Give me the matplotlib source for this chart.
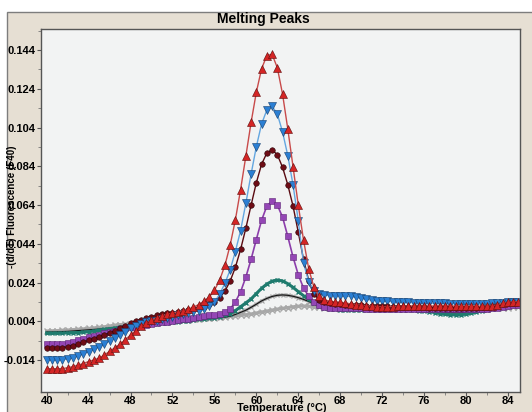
import matplotlib.pyplot as plt
from matplotlib.patches import Rectangle

# temperature grid (deg C) the curves were read at
temp = [40.0, 40.5, 41.0, 41.5, 42.0, 42.5, 43.0, 43.5, 44.0, 44.5,
        45.0, 45.5, 46.0, 46.5, 47.0, 47.5, 48.0, 48.5, 49.0, 49.5,
        50.0, 50.5, 51.0, 51.5, 52.0, 52.5, 53.0, 53.5, 54.0, 54.5,
        55.0, 55.5, 56.0, 56.5, 57.0, 57.5, 58.0, 58.5, 59.0, 59.5,
        60.0, 60.5, 61.0, 61.5, 62.0, 62.5, 63.0, 63.5, 64.0, 64.5,
        65.0, 65.5, 66.0, 66.5, 67.0, 67.5, 68.0, 68.5, 69.0, 69.5,
        70.0, 70.5, 71.0, 71.5, 72.0, 72.5, 73.0, 73.5, 74.0, 74.5,
        75.0, 75.5, 76.0, 76.5, 77.0, 77.5, 78.0, 78.5, 79.0, 79.5,
        80.0, 80.5, 81.0, 81.5, 82.0, 82.5, 83.0, 83.5, 84.0, 84.5,
        85.0]

red = [-0.0205, -0.0205, -0.0205, -0.0204, -0.0200, -0.0194, -0.0187, -0.0178, -0.0168, -0.0160,
       -0.0150, -0.0135, -0.0115, -0.0097, -0.0078, -0.0055, -0.0031, -0.0008, 0.0014, 0.0030,
       0.0045, 0.0058, 0.0068, 0.0076, 0.0082, 0.0088, 0.0095, 0.0102, 0.0113, 0.0126,
       0.0144, 0.0165, 0.0199, 0.0252, 0.0328, 0.0432, 0.0563, 0.0720, 0.0892, 0.1066,
       0.1222, 0.1343, 0.1411, 0.1418, 0.1349, 0.1213, 0.1033, 0.0838, 0.0640, 0.0460,
       0.0310, 0.0215, 0.0168, 0.0150, 0.0143, 0.0140, 0.0137, 0.0134, 0.0130, 0.0126,
       0.0123, 0.0120, 0.0118, 0.0116, 0.0115, 0.0115, 0.0116, 0.0117, 0.0118, 0.0119,
       0.0119, 0.0118, 0.0118, 0.0118, 0.0119, 0.0120, 0.0120, 0.0119, 0.0118, 0.0117,
       0.0117, 0.0117, 0.0118, 0.0118, 0.0118, 0.0120, 0.0124, 0.0132, 0.0138, 0.0141,
       0.0142]

blue = [-0.0160, -0.0160, -0.0160, -0.0158, -0.0154, -0.0148, -0.0139, -0.0128, -0.0117, -0.0104,
        -0.0093, -0.0078, -0.0062, -0.0047, -0.0032, -0.0015, 0.0004, 0.0016, 0.0026, 0.0034,
        0.0039, 0.0044, 0.0051, 0.0058, 0.0064, 0.0071, 0.0077, 0.0082, 0.0088, 0.0095,
        0.0103, 0.0117, 0.0138, 0.0180, 0.0235, 0.0305, 0.0400, 0.0508, 0.0649, 0.0799,
        0.0941, 0.1058, 0.1130, 0.1150, 0.1110, 0.1018, 0.0895, 0.0745, 0.0560, 0.0340,
        0.0245, 0.0198, 0.0180, 0.0175, 0.0173, 0.0172, 0.0171, 0.0170, 0.0168, 0.0164,
        0.0158, 0.0153, 0.0150, 0.0147, 0.0145, 0.0143, 0.0141, 0.0139, 0.0138, 0.0137,
        0.0136, 0.0135, 0.0134, 0.0134, 0.0133, 0.0133, 0.0132, 0.0131, 0.0130, 0.0129,
        0.0128, 0.0128, 0.0128, 0.0129, 0.0130, 0.0132, 0.0134, 0.0136, 0.0138, 0.0140,
        0.0141]

darkred = [-0.0099, -0.0099, -0.0098, -0.0096, -0.0092, -0.0086, -0.0077, -0.0068, -0.0059, -0.0050,
           -0.0041, -0.0031, -0.0020, -0.0009, 0.0003, 0.0016, 0.0029, 0.0040, 0.0049, 0.0057,
           0.0064, 0.0070, 0.0076, 0.0081, 0.0085, 0.0089, 0.0093, 0.0097, 0.0101, 0.0106,
           0.0115, 0.0128, 0.0140, 0.0161, 0.0195, 0.0247, 0.0318, 0.0411, 0.0520, 0.0639,
           0.0755, 0.0850, 0.0908, 0.0925, 0.0900, 0.0835, 0.0745, 0.0635, 0.0500, 0.0360,
           0.0250, 0.0180, 0.0150, 0.0138, 0.0133, 0.0130, 0.0127, 0.0125, 0.0124, 0.0123,
           0.0122, 0.0121, 0.0120, 0.0119, 0.0118, 0.0117, 0.0116, 0.0116, 0.0115, 0.0115,
           0.0114, 0.0113, 0.0112, 0.0111, 0.0110, 0.0109, 0.0108, 0.0107, 0.0107, 0.0107,
           0.0108, 0.0109, 0.0111, 0.0113, 0.0116, 0.0120, 0.0125, 0.0130, 0.0134, 0.0136,
           0.0137]

purple = [-0.0077, -0.0077, -0.0077, -0.0076, -0.0072, -0.0066, -0.0058, -0.0050, -0.0043, -0.0036,
          -0.0029, -0.0022, -0.0015, -0.0008, -0.0002, 0.0004, 0.0009, 0.0013, 0.0018, 0.0022,
          0.0026, 0.0030, 0.0034, 0.0038, 0.0042, 0.0046, 0.0050, 0.0054, 0.0058, 0.0062,
          0.0066, 0.0070, 0.0074, 0.0078, 0.0086, 0.0103, 0.0140, 0.0192, 0.0268, 0.0360,
          0.0462, 0.0561, 0.0634, 0.0660, 0.0640, 0.0578, 0.0478, 0.0372, 0.0280, 0.0212,
          0.0168, 0.0138, 0.0124, 0.0116, 0.0111, 0.0110, 0.0110, 0.0109, 0.0108, 0.0107,
          0.0106, 0.0105, 0.0104, 0.0104, 0.0103, 0.0103, 0.0103, 0.0103, 0.0103, 0.0102,
          0.0102, 0.0102, 0.0102, 0.0102, 0.0102, 0.0102, 0.0102, 0.0102, 0.0102, 0.0102,
          0.0102, 0.0103, 0.0103, 0.0104, 0.0105, 0.0107, 0.0110, 0.0114, 0.0118, 0.0122,
          0.0124]

teal = [-0.0022, -0.0022, -0.0021, -0.0021, -0.0020, -0.0019, -0.0018, -0.0016, -0.0014, -0.0010,
        -0.0006, -0.0002, 0.0002, 0.0005, 0.0008, 0.0011, 0.0014, 0.0017, 0.0020, 0.0023,
        0.0025, 0.0028, 0.0030, 0.0033, 0.0035, 0.0038, 0.0041, 0.0044, 0.0047, 0.0050,
        0.0053, 0.0056, 0.0059, 0.0064, 0.0070, 0.0080, 0.0095, 0.0115, 0.0135, 0.0155,
        0.0183, 0.0210, 0.0232, 0.0247, 0.0253, 0.0248, 0.0234, 0.0215, 0.0193, 0.0172,
        0.0153, 0.0135, 0.0120, 0.0110, 0.0105, 0.0102, 0.0100, 0.0099, 0.0099, 0.0099,
        0.0099, 0.0099, 0.0099, 0.0098, 0.0098, 0.0097, 0.0097, 0.0097, 0.0097, 0.0097,
        0.0096, 0.0095, 0.0093, 0.0090, 0.0085, 0.0080, 0.0076, 0.0074, 0.0073, 0.0074,
        0.0077, 0.0082, 0.0088, 0.0093, 0.0097, 0.0102, 0.0110, 0.0120, 0.0130, 0.0137,
        0.0140]

black = [-0.0015, -0.0015, -0.0014, -0.0013, -0.0012, -0.0010, -0.0008, -0.0006, -0.0004, -0.0002,
         0.0000, 0.0002, 0.0005, 0.0008, 0.0010, 0.0013, 0.0015, 0.0018, 0.0021, 0.0024,
         0.0026, 0.0029, 0.0031, 0.0034, 0.0037, 0.0040, 0.0042, 0.0044, 0.0046, 0.0048,
         0.0050, 0.0053, 0.0055, 0.0058, 0.0061, 0.0066, 0.0075, 0.0086, 0.0097, 0.0112,
         0.0128, 0.0145, 0.0158, 0.0168, 0.0174, 0.0176, 0.0174, 0.0169, 0.0162, 0.0153,
         0.0142, 0.0131, 0.0122, 0.0115, 0.0111, 0.0108, 0.0106, 0.0105, 0.0104, 0.0104,
         0.0103, 0.0103, 0.0103, 0.0103, 0.0102, 0.0102, 0.0102, 0.0102, 0.0102, 0.0102,
         0.0102, 0.0101, 0.0100, 0.0098, 0.0094, 0.0090, 0.0086, 0.0084, 0.0083, 0.0084,
         0.0087, 0.0091, 0.0095, 0.0098, 0.0101, 0.0106, 0.0113, 0.0121, 0.0127, 0.0131,
         0.0133]

gray = [-0.0010, -0.0009, -0.0008, -0.0006, -0.0005, -0.0003, -0.0001, 0.0001, 0.0003, 0.0006,
        0.0009, 0.0012, 0.0016, 0.0020, 0.0023, 0.0025, 0.0027, 0.0029, 0.0031, 0.0033,
        0.0035, 0.0037, 0.0039, 0.0041, 0.0043, 0.0045, 0.0047, 0.0049, 0.0051, 0.0053,
        0.0055, 0.0057, 0.0059, 0.0061, 0.0063, 0.0065, 0.0068, 0.0071, 0.0074, 0.0078,
        0.0083, 0.0088, 0.0093, 0.0098, 0.0103, 0.0107, 0.0111, 0.0115, 0.0118, 0.0119,
        0.0118, 0.0116, 0.0113, 0.0110, 0.0108, 0.0106, 0.0105, 0.0104, 0.0104, 0.0103,
        0.0103, 0.0103, 0.0102, 0.0102, 0.0102, 0.0102, 0.0102, 0.0102, 0.0101, 0.0101,
        0.0101, 0.0101, 0.0101, 0.0101, 0.0101, 0.0101, 0.0101, 0.0102, 0.0102, 0.0102,
        0.0103, 0.0103, 0.0104, 0.0104, 0.0105, 0.0106, 0.0107, 0.0109, 0.0111, 0.0112,
        0.0114]

# the instrument labels its lowest tick -0.014 although it sits one step below 0.004
ytick_pos = [-0.016, 0.004, 0.024, 0.044, 0.064, 0.084, 0.104, 0.124, 0.144]
ytick_lab = ['-0.014', '0.004', '0.024', '0.044', '0.064', '0.084', '0.104', '0.124', '0.144']
xtick_pos = [40, 44, 48, 52, 56, 60, 64, 68, 72, 76, 80, 84]

plt.rcParams['font.family'] = ['Liberation Sans', 'DejaVu Sans']

fig = plt.figure(figsize=(5.32, 4.12), dpi=100)
fig.patch.set_facecolor('white')
# beige panel behind the plot
fig.patches.append(Rectangle((6.8 / 532, -0.05), 1.1, 0.05 + (412 - 11.5) / 412,
                             transform=fig.transFigure, facecolor='#e6dfd3',
                             edgecolor='#7d7d7d', lw=1.0, zorder=-10))

ax = fig.add_axes([41.4 / 532, 20 / 412, (520 - 41.4) / 532, (392 - 28.5) / 412])
ax.set_zorder(5)
ax.set_facecolor('#f2f3f3')

ax.plot(temp, gray, color='#a8a8a8', lw=2.2, marker='x', ms=3.8, mew=1.0)
ax.plot(temp, black, color='#a0a0a0', lw=2.0, marker='x', ms=3.4, mew=0.8)
ax.plot(temp, black, color='#111111', lw=0.8)
ax.plot(temp, teal, color='#1f7b6e', lw=2.2, marker='x', ms=3, mew=1.0)
ax.plot(temp, purple, color='#8c3dab', lw=1.2, marker='s', ms=4.6,
        mfc='#9446b5', mec='#5e2476', mew=0.4)
ax.plot(temp, darkred, color='#5a0a10', lw=1.0, marker='o', ms=4.0,
        mfc='#6e0c15', mec='#2a0508', mew=0.4)
ax.plot(temp, blue, color='#63a6e0', lw=1.0, marker='v', ms=5.3,
        mfc='#2b7fd3', mec='#17406e', mew=0.4)
ax.plot(temp, red, color='#c84a4a', lw=1.0, marker='^', ms=5.3,
        mfc='#d42525', mec='#5c0c0c', mew=0.4)

ax.set_xlim(39.5, 85.15)
ax.set_ylim(-0.0325, 0.1551)
ax.set_xticks(xtick_pos)
ax.set_xticks([42, 46, 50, 54, 58, 62, 66, 70, 74, 78, 82], minor=True)
ax.set_yticks(ytick_pos)
ax.set_yticklabels(ytick_lab)
ax.set_yticks([-0.006, 0.014, 0.034, 0.054, 0.074, 0.094, 0.114, 0.134, 0.154], minor=True)
ax.tick_params(which='major', length=3, width=0.8, color='#555555', pad=1,
               labelsize=8)
ax.tick_params(axis='x', which='major', pad=0)
ax.tick_params(which='minor', length=2, width=0.6, color='#777777')
for lab in ax.get_xticklabels() + ax.get_yticklabels():
    lab.set_fontweight('bold')
for sp in ax.spines.values():
    sp.set_color('#555555')
    sp.set_linewidth(1.0)

fig.text(263 / 532, 1 - 19.5 / 412, 'Melting Peaks', ha='center', va='center',
         fontsize=10, fontweight='bold')
fig.text(12 / 532, 1 - 207 / 412, '-(d/dT) Fluorescence (F40)', rotation=90,
         ha='center', va='center', fontsize=7, fontweight='bold', zorder=10)
fig.text(282 / 532, 1 - 408 / 412, 'Temperature (°C)', ha='center', va='center',
         fontsize=8, fontweight='bold')

plt.savefig('out.png', dpi=100)
